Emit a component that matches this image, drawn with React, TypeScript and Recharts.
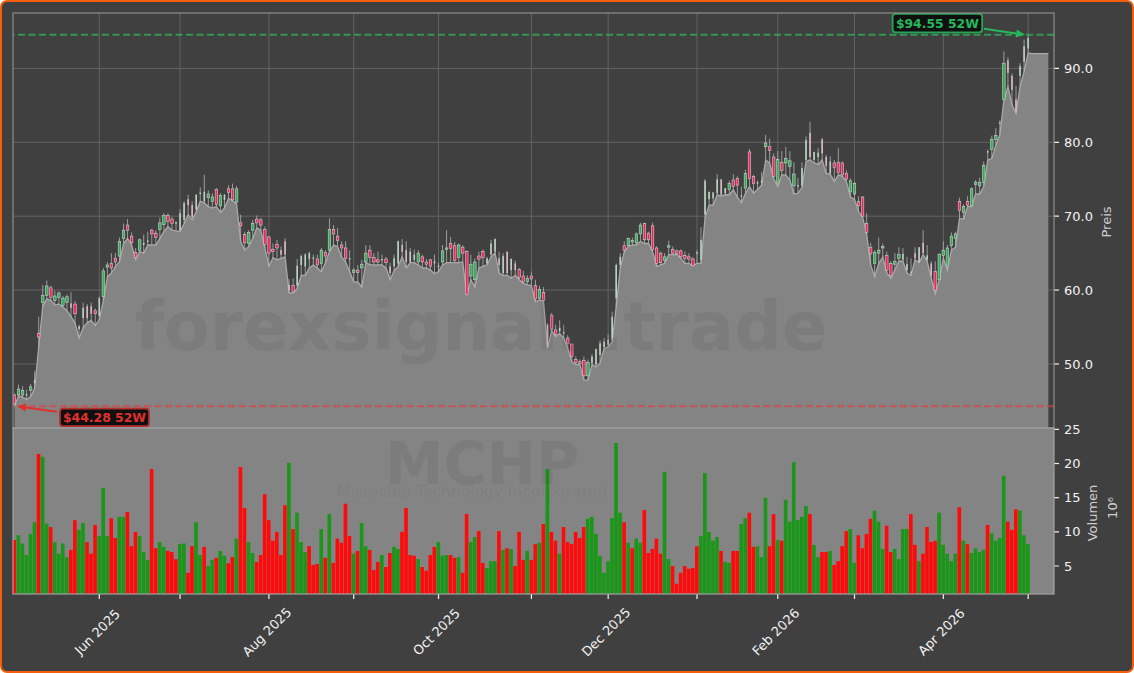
import {
  Area,
  Bar,
  CartesianGrid,
  Cell,
  ComposedChart,
  ReferenceDot,
  ReferenceLine,
  XAxis,
  YAxis,
} from 'recharts'

const FONT = '"DejaVu Sans", sans-serif'
const PRICE_HEIGHT = 428
const TOTAL_WIDTH = 1134
const VOLUME_PAD = 20
const PLOT_LEFT = 13
const PLOT_WIDTH = 1041

const opens = [
  45.8, 45.8, 45.8, 45.7, 46.4, 47.4, 54.15, 58.3, 59.3, 60.3,
  58.6, 59.0, 57.9, 58.3, 58.2, 58.1, 54.7, 56.2, 57.8, 57.8,
  57.2, 56.5, 59.1, 63.1, 63.6, 64.3, 64.6, 67.0, 68.8, 67.3,
  65.1, 65.4, 66.1, 66.5, 68.1, 67.7, 68.2, 68.9, 70.1, 69.6,
  69.0, 68.1, 69.5, 72.3, 71.5, 70.9, 73.0, 72.0, 72.5, 72.0,
  73.6, 71.4, 72.2, 73.7, 73.7, 71.9, 69.1, 67.5, 66.3, 68.1,
  69.6, 69.5, 68.2, 67.2, 65.5, 66.2, 65.4, 66.6, 60.7, 60.6,
  60.6, 63.4, 63.2, 64.2, 64.4, 64.2, 63.6, 65.1, 65.4, 68.2,
  67.3, 66.1, 65.7, 64.1, 62.4, 62.7, 63.0, 63.8, 65.4, 64.4,
  64.1, 64.0, 64.2, 63.2, 63.2, 63.6, 66.1, 65.4, 63.8, 64.1,
  63.8, 64.5, 63.8, 64.1, 63.6, 63.1, 63.8, 65.5, 66.3, 66.0,
  64.4, 65.8, 65.2, 61.9, 61.4, 64.6, 65.2, 63.6, 64.8, 65.2,
  64.3, 62.3, 65.2, 62.7, 63.6, 62.8, 61.9, 61.1, 61.9, 60.6,
  58.9, 59.7, 55.3, 56.6, 54.6, 54.4, 54.3, 53.5, 52.7, 50.6,
  50.3, 50.5, 48.4, 50.1, 49.9, 51.2, 52.3, 52.6, 53.3, 58.9,
  63.4, 66.0, 66.0, 66.5, 66.4, 67.6, 69.0, 67.7, 68.7, 65.7,
  65.0, 64.0, 65.8, 65.5, 65.3, 65.3, 64.7, 64.5, 64.2, 64.9,
  64.1, 70.2, 72.3, 72.4, 73.1, 75.0, 73.1, 73.6, 74.9, 75.1,
  72.6, 73.8, 78.7, 75.4, 74.4, 74.6, 79.4, 79.4, 78.0, 74.5,
  77.3, 77.2, 76.7, 74.1, 74.0, 74.2, 77.6, 81.3, 77.6, 78.0,
  80.4, 78.0, 75.8, 77.2, 77.3, 77.2, 75.8, 73.3, 73.0, 72.0,
  72.6, 69.0, 65.8, 63.6, 65.0, 65.7, 64.7, 63.6, 63.5, 64.3,
  64.1, 62.7, 62.3, 65.0, 63.8, 66.4, 64.1, 63.6, 62.5, 61.4,
  64.7, 63.3, 66.0, 67.0, 72.0, 70.5, 72.0, 71.4, 74.3, 74.1,
  74.6, 78.6, 79.0, 80.4, 82.5, 85.8, 91.1, 89.0, 85.8, 89.0,
  90.9, 92.7,
]

const highs = [
  46.0, 47.2, 47.0, 46.5, 47.3, 49.0, 56.4, 60.7, 61.3, 60.6,
  59.9, 59.8, 59.2, 59.4, 59.7, 58.5, 55.3, 58.3, 58.1, 58.3,
  57.5, 59.1, 63.0, 63.8, 65.0, 65.0, 67.1, 69.0, 69.6, 67.8,
  65.7, 67.0, 67.5, 67.9, 68.3, 68.1, 69.8, 70.4, 70.4, 69.9,
  69.3, 70.9, 72.0, 72.9, 72.0, 73.0, 73.9, 75.6, 73.5, 73.1,
  73.8, 73.1, 73.0, 74.2, 74.4, 74.1, 70.2, 67.9, 68.1, 69.5,
  70.1, 69.8, 68.6, 67.3, 66.3, 66.8, 65.9, 67.0, 61.5, 61.6,
  64.2, 64.8, 65.0, 65.2, 64.8, 64.8, 65.7, 65.4, 69.7, 68.8,
  68.4, 66.6, 66.6, 65.4, 63.0, 63.4, 64.1, 66.1, 66.1, 65.0,
  65.2, 64.8, 64.5, 63.7, 64.8, 66.7, 66.9, 66.6, 65.7, 65.5,
  65.4, 64.8, 64.2, 64.2, 64.8, 63.7, 66.1, 68.1, 67.2, 66.5,
  66.3, 66.1, 65.4, 64.8, 64.3, 65.2, 65.5, 64.5, 66.8, 67.0,
  65.2, 65.0, 65.2, 64.3, 64.0, 63.0, 62.6, 62.0, 62.5, 61.4,
  60.6, 60.4, 55.5, 56.9, 55.3, 55.9, 55.3, 53.9, 52.7, 51.0,
  50.6, 51.0, 50.6, 51.3, 52.1, 53.2, 53.5, 54.0, 57.1, 63.6,
  65.0, 66.6, 67.1, 67.1, 67.8, 69.1, 69.1, 67.9, 69.1, 65.9,
  65.2, 65.0, 66.7, 65.9, 65.5, 65.5, 65.2, 65.0, 64.5, 65.4,
  68.5, 75.0, 73.3, 73.3, 75.7, 75.0, 73.8, 74.8, 75.7, 75.4,
  74.0, 76.3, 79.1, 75.6, 74.8, 76.0, 81.0, 80.5, 78.5, 78.8,
  78.8, 79.4, 78.8, 77.3, 75.2, 77.3, 80.8, 82.8, 78.7, 79.2,
  80.6, 78.3, 78.1, 77.6, 79.2, 77.4, 76.2, 75.1, 74.7, 72.7,
  72.7, 70.4, 66.4, 65.4, 67.1, 66.3, 65.2, 63.9, 65.0, 65.8,
  65.7, 64.5, 64.3, 65.8, 65.8, 68.1, 66.1, 63.9, 63.9, 65.0,
  66.6, 66.1, 67.8, 67.9, 72.5, 71.6, 72.7, 73.9, 74.9, 75.2,
  77.4, 79.0, 80.9, 81.9, 83.0, 92.3, 91.5, 89.3, 87.6, 90.7,
  93.9, 94.55,
]

const lows = [
  44.28, 45.7, 45.5, 45.2, 45.6, 46.7, 52.3, 57.8, 58.8, 58.6,
  58.0, 58.1, 57.7, 57.2, 56.4, 55.5, 53.5, 54.9, 55.6, 55.9,
  55.2, 56.0, 58.6, 61.8, 62.3, 63.2, 63.8, 66.3, 67.0, 66.1,
  64.1, 65.2, 65.0, 66.1, 66.1, 66.1, 67.0, 67.9, 68.6, 68.1,
  68.0, 67.9, 69.0, 70.2, 69.5, 70.6, 72.0, 71.8, 71.3, 71.1,
  71.3, 70.5, 71.1, 72.4, 72.1, 71.6, 66.6, 65.4, 65.9, 67.0,
  68.4, 68.1, 65.7, 63.2, 64.4, 64.1, 64.3, 64.5, 59.6, 59.6,
  60.2, 62.0, 62.0, 63.0, 63.4, 63.0, 62.5, 63.7, 65.2, 66.1,
  65.9, 64.5, 63.8, 62.5, 61.1, 61.1, 60.4, 63.7, 63.4, 63.4,
  63.4, 63.4, 63.0, 61.4, 62.6, 63.2, 64.5, 63.0, 63.7, 63.7,
  63.4, 63.0, 63.0, 62.7, 62.2, 62.5, 63.4, 63.7, 63.7, 63.7,
  63.7, 63.8, 59.3, 61.4, 60.4, 63.0, 63.2, 63.4, 64.5, 65.0,
  62.3, 62.0, 62.0, 61.6, 62.0, 61.4, 60.9, 60.7, 60.6, 58.4,
  58.7, 58.4, 52.1, 54.5, 53.7, 54.1, 53.5, 52.1, 50.3, 49.9,
  49.9, 47.8, 47.8, 49.9, 49.6, 50.1, 52.1, 52.3, 53.0, 57.8,
  63.0, 65.2, 65.9, 66.1, 66.1, 66.6, 66.3, 66.3, 65.2, 63.2,
  63.4, 63.6, 64.8, 64.8, 64.8, 64.3, 63.6, 63.6, 63.3, 63.6,
  63.6, 69.8, 71.5, 71.5, 72.9, 72.7, 72.9, 72.9, 73.6, 72.6,
  71.8, 73.1, 74.0, 73.1, 73.6, 74.2, 77.6, 77.2, 75.1, 74.0,
  75.6, 75.6, 74.9, 73.0, 73.1, 73.9, 77.4, 77.6, 77.2, 77.0,
  77.6, 75.8, 75.7, 74.7, 75.6, 75.4, 74.7, 72.6, 72.3, 70.6,
  69.9, 67.6, 63.4, 61.8, 63.6, 64.5, 62.3, 61.6, 62.7, 63.9,
  63.9, 62.3, 62.0, 64.1, 63.7, 64.8, 63.9, 61.6, 59.5, 61.4,
  64.3, 62.7, 65.4, 65.8, 69.7, 69.6, 71.3, 71.3, 73.0, 73.0,
  74.0, 77.6, 77.8, 79.6, 81.0, 85.7, 87.5, 85.1, 83.9, 87.5,
  89.6, 92.1,
]

const closes = [
  44.6, 46.6, 46.4, 45.9, 46.9, 47.8, 53.65, 59.3, 60.55, 59.0,
  59.2, 59.6, 58.9, 59.1, 57.6, 56.8, 55.1, 57.6, 56.2, 56.8,
  56.8, 58.9, 62.6, 63.4, 63.0, 63.8, 66.6, 68.1, 68.1, 66.4,
  64.4, 66.8, 66.4, 66.7, 67.6, 67.1, 69.1, 70.1, 69.3, 69.0,
  69.2, 70.4, 71.8, 71.5, 69.9, 72.9, 73.2, 73.3, 73.0, 72.6,
  71.6, 72.8, 72.9, 73.2, 72.2, 73.7, 68.7, 66.4, 67.8, 69.0,
  69.1, 68.8, 66.2, 65.0, 65.2, 65.7, 64.8, 64.8, 60.0, 59.8,
  63.3, 64.6, 64.8, 65.0, 64.2, 63.4, 65.4, 64.6, 68.2, 67.6,
  66.7, 65.7, 64.3, 64.3, 62.7, 62.4, 63.5, 65.0, 64.4, 63.8,
  63.8, 64.2, 63.7, 62.3, 64.3, 66.6, 65.2, 63.8, 65.2, 64.8,
  65.0, 63.8, 63.5, 63.2, 63.9, 63.3, 65.3, 65.7, 65.6, 64.0,
  66.1, 65.0, 59.4, 63.5, 63.8, 64.2, 64.4, 64.3, 66.3, 66.9,
  63.4, 64.6, 62.3, 64.2, 62.7, 61.7, 61.1, 61.6, 61.5, 58.8,
  60.1, 58.6, 52.3, 54.7, 54.0, 54.9, 54.1, 52.8, 51.0, 50.2,
  50.1, 48.4, 50.2, 51.0, 52.0, 52.8, 53.0, 53.3, 56.4, 63.4,
  64.5, 65.4, 67.0, 66.7, 67.6, 68.8, 66.8, 66.8, 65.5, 63.6,
  63.7, 64.5, 66.0, 65.0, 64.9, 64.5, 64.3, 64.2, 63.3, 65.1,
  66.8, 74.8, 73.3, 73.2, 75.0, 72.9, 73.8, 74.4, 74.0, 74.2,
  72.8, 75.8, 75.1, 74.4, 74.6, 74.8, 79.9, 78.9, 75.4, 77.7,
  76.2, 77.8, 77.5, 75.7, 74.2, 76.5, 80.3, 78.0, 78.7, 78.6,
  78.5, 76.8, 77.4, 76.6, 75.9, 75.6, 75.0, 74.8, 74.4, 71.4,
  70.0, 67.8, 64.9, 65.1, 65.4, 65.9, 62.7, 62.0, 63.9, 64.8,
  64.9, 63.5, 62.5, 64.3, 65.8, 65.0, 64.7, 62.0, 60.0, 64.8,
  65.4, 65.7, 67.3, 67.6, 70.8, 71.3, 71.5, 73.7, 74.6, 74.6,
  76.9, 78.8, 80.4, 80.9, 82.7, 90.7, 89.4, 87.1, 84.2, 90.3,
  93.0, 94.1,
]

// days that print as a thin pale stick in the source picture
const faintDays = [
  3, 5, 14, 16, 17, 18, 19, 21, 32, 33, 40, 41, 42, 43, 44, 45, 46, 47, 52,
  66, 67, 68, 70, 71, 72, 73, 74, 83, 91, 93, 94, 95, 96, 97, 98, 99, 104, 105,
  117, 118, 119, 120, 121, 122, 123, 124, 132, 135, 136, 143, 144, 145, 146, 147,
  148, 149, 150, 169, 170, 171, 172, 173, 174, 175, 176, 180, 184, 185, 194, 195,
  196, 197, 198, 199, 200, 201, 202, 220, 221, 222, 223, 224, 225, 226, 227, 241,
  244, 246, 247, 248, 249, 250, 251,
]

// the grey fill runs on flat past the last session
const fillTail = [92, 92, 92, 92, 92]

const volumes = [
  8.8, 9.5, 8.3, 6.6, 9.7, 11.4, 21.4, 21.0, 11.2, 10.7,
  8.5, 6.8, 8.3, 6.3, 7.35, 11.7, 10.3, 11.3, 8.5, 6.8,
  11.0, 9.4, 16.4, 9.4, 12.0, 9.1, 12.2, 12.2, 12.9, 7.9,
  10.0, 9.4, 7.05, 5.9, 19.2, 7.6, 8.5, 7.8, 7.2, 7.05,
  6.0, 8.2, 8.3, 4.0, 7.9, 11.4, 6.6, 7.8, 5.0, 5.9,
  6.2, 7.2, 6.5, 5.4, 6.3, 9.0, 19.5, 13.5, 8.5, 6.9,
  5.6, 6.6, 15.5, 11.7, 8.7, 10.0, 6.6, 13.9, 20.1, 10.4,
  12.8, 8.5, 7.05, 7.9, 5.15, 5.3, 10.4, 6.2, 12.6, 5.45,
  9.0, 8.4, 14.1, 9.4, 6.8, 7.2, 11.3, 7.9, 7.35, 4.4,
  5.6, 6.6, 4.85, 6.9, 7.8, 7.5, 10.0, 13.5, 6.6, 6.5,
  6.0, 4.85, 4.3, 6.6, 7.8, 8.5, 6.5, 6.6, 6.6, 6.2,
  6.3, 4.0, 12.6, 8.5, 9.25, 10.1, 5.45, 4.7, 5.7, 5.7,
  10.1, 7.35, 7.6, 7.5, 5.0, 10.0, 5.9, 7.2, 5.9, 8.2,
  8.4, 11.15, 19.2, 10.0, 8.7, 6.8, 10.7, 8.5, 8.2, 10.0,
  9.1, 10.7, 11.9, 12.2, 9.7, 6.5, 4.0, 5.7, 12.0, 23.0,
  12.8, 11.4, 8.4, 7.6, 9.0, 8.4, 13.2, 6.9, 7.5, 9.0,
  6.8, 18.8, 6.0, 5.0, 2.4, 4.0, 5.0, 4.6, 4.7, 7.9,
  9.4, 18.6, 10.0, 8.7, 9.25, 7.2, 5.6, 5.45, 7.2, 7.2,
  11.15, 12.0, 12.8, 7.8, 7.9, 6.3, 15.0, 7.9, 12.6, 8.8,
  8.7, 14.7, 11.5, 20.2, 11.7, 12.2, 13.8, 12.6, 8.1, 6.3,
  7.05, 7.05, 7.2, 5.15, 5.7, 7.9, 10.1, 10.4, 5.45, 9.5,
  7.6, 9.7, 11.9, 13.1, 11.5, 7.5, 10.9, 7.05, 7.5, 6.0,
  10.4, 10.4, 12.6, 8.1, 5.7, 6.8, 10.7, 8.5, 8.7, 12.8,
  8.1, 6.8, 5.7, 6.8, 13.6, 8.7, 8.2, 6.9, 7.6, 7.05,
  7.35, 11.0, 9.8, 8.7, 9.1, 18.2, 11.5, 10.3, 13.3, 13.1,
  9.5, 8.2,
]

const volumeSides = [
  'r g g g g g r g g r',
  'g g g g r r g g r r',
  'r g g g r r g g r r',
  'r g g g r r g g r r',
  'r g g r r g g r g g',
  'r g g r r g r r g g',
  'r r r r r r r r g r',
  'g g g r r r g r g r',
  'r r r r g r g g r r',
  'r g r r g g r r r r',
  'g r r r r g g g r r',
  'g r r g g r r g g g',
  'r g r g r r r g r r',
  'g r g r r g r r r r',
  'r r g g g g g g g g',
  'g r g r g g r r r r',
  'r g g r r r r r r r',
  'g g g g g r g g r r',
  'g g r r g g g r r g',
  'r g g g g g g r g g',
  'r r g r r r r g g r',
  'r r r g g g r r g g',
  'g g r r g r r r r g',
  'g g g g r g r g g g',
  'g r g g g g r r r g',
  'g g',
].join(' ').split(' ')

const monthTicks = [21, 41, 63, 84, 105, 128, 147, 169, 189, 208, 230, 251]
const monthLabels = [
  'Jun 2025', '', 'Aug 2025', '', 'Oct 2025', '', 'Dec 2025', '', 'Feb 2026', '', 'Apr 2026', '',
]
const priceTicks = [50, 60, 70, 80, 90]
const volumeTicks = [5, 10, 15, 20, 25]

const high52w = 94.55
const low52w = 44.28

const priceData = [
  ...opens.map((open, i) => ({
    day: i,
    open,
    high: highs[i],
    low: lows[i],
    close: closes[i],
    range: [lows[i], highs[i]],
    fill: lows[i],
    faint: faintDays.includes(i),
  })),
  ...fillTail.map((fill, i) => ({ day: opens.length + i, fill })),
]

const volumeData = volumes.map((volume, i) => ({ day: i, volume, side: volumeSides[i] }))

const xDomain = [-0.37, 257.4]
const tickStyle = { fill: '#f2f2f2', fontSize: 13, fontFamily: FONT }

// the hidden x axis gives the grid no lines of its own
const monthGridLines = monthTicks.map(
  (t) => PLOT_LEFT + ((t - xDomain[0]) / (xDomain[1] - xDomain[0])) * PLOT_WIDTH,
)

function Candle(props: any) {
  const { x, y, width, height, payload } = props
  if (payload.open === undefined || !height) return null
  const { open, close, high, low, faint } = payload
  const up = close >= open
  const cx = x + width / 2
  const toY = (v: number) => y + ((high - v) / (high - low)) * height
  const top = toY(Math.max(open, close))
  const bottom = toY(Math.min(open, close))
  const bodyHeight = Math.max(bottom - top, 1)
  if (faint) {
    return (
      <g>
        <line x1={cx} x2={cx} y1={y} y2={y + height} stroke="#b4b4b4" strokeWidth={0.8} />
        <rect
          x={cx - 0.8}
          y={top}
          width={1.6}
          height={bodyHeight}
          fill={up ? '#bcd2c0' : '#dcb8c6'}
        />
      </g>
    )
  }
  return (
    <g>
      <line x1={cx} x2={cx} y1={y} y2={y + height} stroke="#b4b4b4" strokeWidth={0.8} />
      <rect
        x={cx - 1.25}
        y={top}
        width={2.5}
        height={bodyHeight}
        fill={up ? '#2fae55' : '#f0265c'}
        stroke="#d0d0d0"
        strokeWidth={0.6}
      />
    </g>
  )
}

function MonthTick({ x, y, index }: any) {
  const label = monthLabels[index]
  return (
    <g>
      <line x1={x} x2={x} y1={y - 8} y2={y - 3} stroke="#f2f2f2" strokeWidth={1.2} />
      {label && (
        <text
          x={x - 2}
          y={y + 30}
          textAnchor="middle"
          dominantBaseline="central"
          transform={`rotate(-45 ${x - 2} ${y + 30})`}
          {...tickStyle}
        >
          {label}
        </text>
      )}
    </g>
  )
}

// callout box and arrow, anchored on the point the library places
function Callout({ cx, cy, text, color, edge, box, tail }: any) {
  const tipX = cx + box.tipDx
  const tipY = cy
  const tailX = cx + tail[0]
  const tailY = cy + tail[1]
  const angle = Math.atan2(tipY - tailY, tipX - tailX)
  const headL = 9
  const headW = 4
  const baseX = tipX - headL * Math.cos(angle)
  const baseY = tipY - headL * Math.sin(angle)
  const nx = -Math.sin(angle) * headW
  const ny = Math.cos(angle) * headW
  return (
    <g>
      <line x1={tailX} y1={tailY} x2={baseX} y2={baseY} stroke={color} strokeWidth={2} />
      <polygon
        points={`${tipX},${tipY} ${baseX + nx},${baseY + ny} ${baseX - nx},${baseY - ny}`}
        fill={color}
      />
      <rect
        x={cx + box.dx}
        y={cy + box.dy}
        width={box.w}
        height={box.h}
        rx={3}
        fill="#101010"
        stroke={edge}
        strokeWidth={1.8}
      />
      <text
        x={cx + box.dx + box.w / 2}
        y={cy + box.dy + box.h / 2}
        textAnchor="middle"
        dominantBaseline="central"
        fill={color}
        fontFamily={FONT}
        fontWeight="bold"
        fontSize={12.4}
      >
        {text}
      </text>
    </g>
  )
}

export default function App() {
  return (
    <div
      style={{
        position: 'absolute',
        left: 0,
        top: 0,
        width: 1134,
        height: 673,
        boxSizing: 'border-box',
        background: '#404040',
        border: '2.5px solid #f55f0c',
        borderRadius: 7,
        overflow: 'hidden',
      }}
    >
      <div style={{ position: 'absolute', left: -2.5, top: -2.5 }}>
        <ComposedChart
          width={TOTAL_WIDTH}
          height={PRICE_HEIGHT}
          data={priceData}
          margin={{ top: 13, right: 0, bottom: 0, left: PLOT_LEFT }}
        >
          <CartesianGrid
            stroke="#626262"
            strokeWidth={1}
            horizontalValues={priceTicks}
            verticalPoints={monthGridLines}
          />
          <XAxis
            dataKey="day"
            type="number"
            domain={xDomain}
            ticks={monthTicks}
            interval={0}
            height={0}
            tick={false}
            axisLine={false}
            tickLine={false}
          />
          <YAxis
            orientation="right"
            width={80}
            domain={[41.33, 97.5]}
            ticks={priceTicks}
            allowDataOverflow
            tick={tickStyle}
            tickFormatter={(v: number) => v.toFixed(1)}
            tickLine={{ stroke: '#f2f2f2', strokeWidth: 1.2 }}
            tickSize={5}
            tickMargin={5}
            axisLine={false}
          />
          <Area
            dataKey="fill"
            type="linear"
            stroke="#a9a9a9"
            strokeWidth={1.3}
            fill="#848484"
            fillOpacity={1}
            isAnimationActive={false}
            dot={false}
            activeDot={false}
          />
          <Bar dataKey="range" barSize={4} shape={Candle} isAnimationActive={false} />
          <ReferenceLine
            y={high52w}
            stroke="#2fb45a"
            strokeOpacity={0.75}
            strokeWidth={2}
            strokeDasharray="7 3.5"
          />
          <ReferenceLine
            y={low52w}
            stroke="#e63e3e"
            strokeOpacity={0.7}
            strokeWidth={2}
            strokeDasharray="7 3.5"
          />
          <ReferenceDot
            x={251}
            y={high52w}
            ifOverflow="visible"
            shape={(p: any) => (
              <Callout
                {...p}
                text="$94.55 52W"
                color="#25b85c"
                edge="#25a556"
                box={{ dx: -135.5, dy: -21, w: 89.5, h: 18.5, tipDx: -3 }}
                tail={[-44, -6]}
              />
            )}
          />
          <ReferenceDot
            x={0}
            y={low52w}
            ifOverflow="visible"
            shape={(p: any) => (
              <Callout
                {...p}
                text="$44.28 52W"
                color="#e0312f"
                edge="#b5302f"
                box={{ dx: 45.5, dy: 2.5, w: 89, h: 17.5, tipDx: 2.5 }}
                tail={[42.5, 5.5]}
              />
            )}
          />
        </ComposedChart>
      </div>
      <div style={{ position: 'absolute', left: -2.5, top: PRICE_HEIGHT - VOLUME_PAD - 2.5 }}>
        <ComposedChart
          width={TOTAL_WIDTH}
          height={245 + VOLUME_PAD}
          data={volumeData}
          margin={{ top: VOLUME_PAD, right: 0, bottom: 0, left: PLOT_LEFT }}
        >
          <CartesianGrid horizontal={false} vertical={false} fill="#848484" fillOpacity={1} />
          <XAxis
            dataKey="day"
            type="number"
            domain={xDomain}
            ticks={monthTicks}
            interval={0}
            height={79}
            tick={MonthTick}
            axisLine={false}
            tickLine={false}
          />
          <YAxis
            orientation="right"
            width={80}
            domain={[0.9, 25.2]}
            ticks={volumeTicks}
            interval={0}
            allowDataOverflow
            tick={tickStyle}
            tickLine={{ stroke: '#f2f2f2', strokeWidth: 1.2 }}
            tickSize={5}
            tickMargin={5}
            axisLine={false}
          />
          <Bar dataKey="volume" barSize={4.3} isAnimationActive={false}>
            {volumeData.map((d) => (
              <Cell key={d.day} fill={d.side === 'g' ? '#1a9618' : '#ff0a0a'} />
            ))}
          </Bar>
        </ComposedChart>
      </div>
      <svg
        width={TOTAL_WIDTH}
        height={673}
        style={{ position: 'absolute', left: -2.5, top: -2.5, pointerEvents: 'none' }}
      >
        <text
          x={481}
          y={350}
          textAnchor="middle"
          fontFamily={FONT}
          fontWeight="bold"
          fontSize={67}
          fill="rgba(60,60,60,0.11)"
        >
          forexsignals.trade
        </text>
        <text
          x={482}
          y={484}
          textAnchor="middle"
          fontFamily={FONT}
          fontWeight="bold"
          fontSize={59}
          fill="rgba(60,60,60,0.11)"
        >
          MCHP
        </text>
        <text
          x={472}
          y={497}
          textAnchor="middle"
          fontFamily={FONT}
          fontSize={15.5}
          fill="rgba(60,60,60,0.08)"
        >
          Microchip Technology Incorporated
        </text>
        <rect x={13} y={13} width={1041} height={415} fill="none" stroke="#8e8e8e" strokeWidth={1.2} />
        <rect x={13} y={428} width={1041} height={166} fill="none" stroke="#a2a2a2" strokeWidth={1.2} />
        <text
          transform="translate(1106 222) rotate(-90)"
          textAnchor="middle"
          dominantBaseline="central"
          fontFamily={FONT}
          fontSize={13}
          fill="#cfcfcf"
        >
          Preis
        </text>
        <text
          transform="translate(1092 513) rotate(-90)"
          textAnchor="middle"
          dominantBaseline="central"
          fontFamily={FONT}
          fontSize={13}
          fill="#cfcfcf"
        >
          Volumen
        </text>
        <text
          transform="translate(1112 508) rotate(-90)"
          textAnchor="middle"
          dominantBaseline="central"
          fontFamily={FONT}
          fontSize={13}
          fill="#cfcfcf"
        >
          10⁶
        </text>
      </svg>
    </div>
  )
}
